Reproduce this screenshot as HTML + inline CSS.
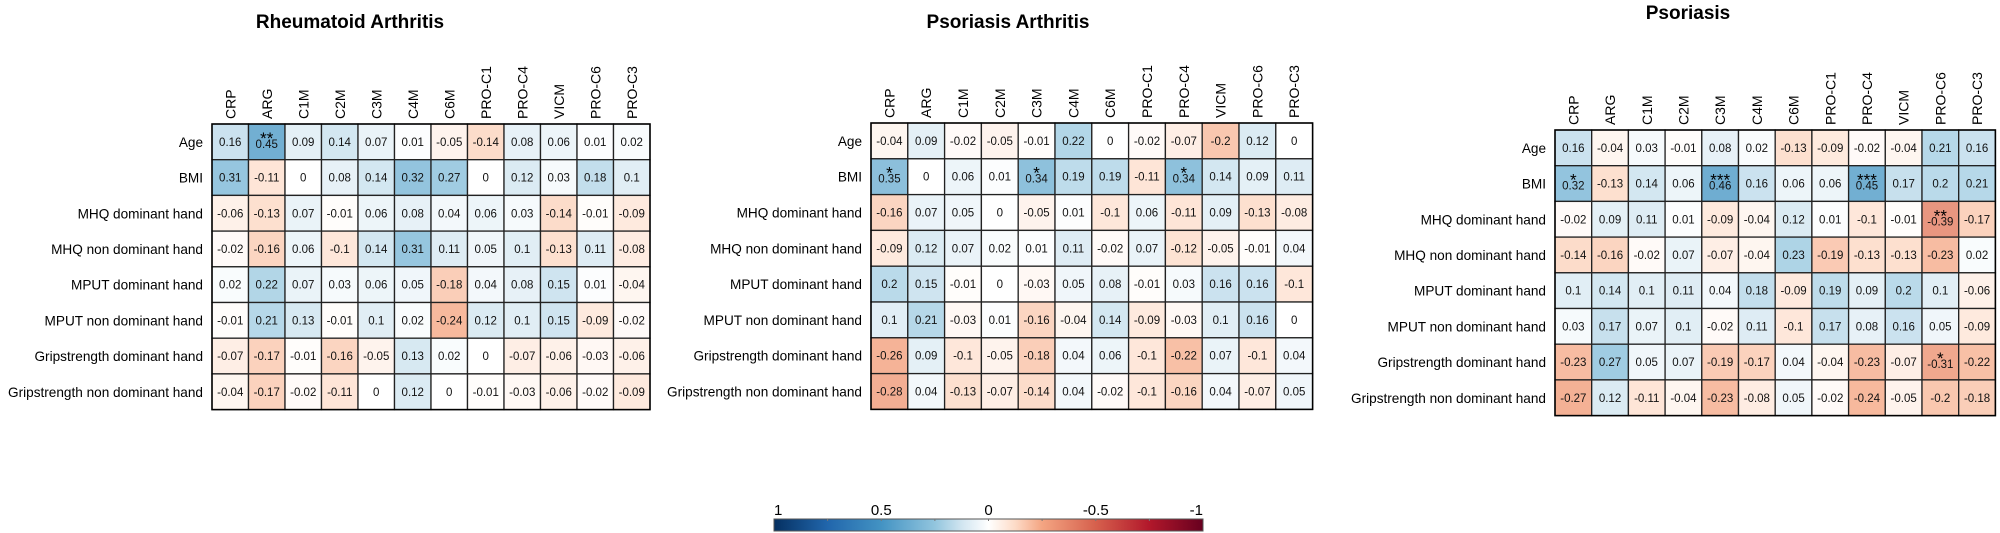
<!DOCTYPE html>
<html><head><meta charset="utf-8">
<style>
html,body{margin:0;padding:0;background:#fff;}
svg{display:block;font-family:"Liberation Sans",Arial,sans-serif;}
</style></head>
<body>
<svg id="chart" width="2000" height="533" viewBox="0 0 2000 533" xmlns="http://www.w3.org/2000/svg"></svg>
<script>
const columns = ["CRP","ARG","C1M","C2M","C3M","C4M","C6M","PRO-C1","PRO-C4","VICM","PRO-C6","PRO-C3"];
const rowsLabels = ["Age","BMI","MHQ dominant hand","MHQ non dominant hand","MPUT dominant hand","MPUT non dominant hand","Gripstrength dominant hand","Gripstrength non dominant hand"];
const titles = ["Rheumatoid Arthritis","Psoriasis Arthritis","Psoriasis"];
const raValues = [
[0.16,0.45,0.09,0.14,0.07,0.01,-0.05,-0.14,0.08,0.06,0.01,0.02],
[0.31,-0.11,0,0.08,0.14,0.32,0.27,0,0.12,0.03,0.18,0.1],
[-0.06,-0.13,0.07,-0.01,0.06,0.08,0.04,0.06,0.03,-0.14,-0.01,-0.09],
[-0.02,-0.16,0.06,-0.1,0.14,0.31,0.11,0.05,0.1,-0.13,0.11,-0.08],
[0.02,0.22,0.07,0.03,0.06,0.05,-0.18,0.04,0.08,0.15,0.01,-0.04],
[-0.01,0.21,0.13,-0.01,0.1,0.02,-0.24,0.12,0.1,0.15,-0.09,-0.02],
[-0.07,-0.17,-0.01,-0.16,-0.05,0.13,0.02,0,-0.07,-0.06,-0.03,-0.06],
[-0.04,-0.17,-0.02,-0.11,0,0.12,0,-0.01,-0.03,-0.06,-0.02,-0.09]];
const raStars = [[0,1,"**"]];
const psaValues = [
[-0.04,0.09,-0.02,-0.05,-0.01,0.22,0,-0.02,-0.07,-0.2,0.12,0],
[0.35,0,0.06,0.01,0.34,0.19,0.19,-0.11,0.34,0.14,0.09,0.11],
[-0.16,0.07,0.05,0,-0.05,0.01,-0.1,0.06,-0.11,0.09,-0.13,-0.08],
[-0.09,0.12,0.07,0.02,0.01,0.11,-0.02,0.07,-0.12,-0.05,-0.01,0.04],
[0.2,0.15,-0.01,0,-0.03,0.05,0.08,-0.01,0.03,0.16,0.16,-0.1],
[0.1,0.21,-0.03,0.01,-0.16,-0.04,0.14,-0.09,-0.03,0.1,0.16,0],
[-0.26,0.09,-0.1,-0.05,-0.18,0.04,0.06,-0.1,-0.22,0.07,-0.1,0.04],
[-0.28,0.04,-0.13,-0.07,-0.14,0.04,-0.02,-0.1,-0.16,0.04,-0.07,0.05]];
const psaStars = [[1,0,"*"],[1,4,"*"],[1,8,"*"]];
const psoValues = [
[0.16,-0.04,0.03,-0.01,0.08,0.02,-0.13,-0.09,-0.02,-0.04,0.21,0.16],
[0.32,-0.13,0.14,0.06,0.46,0.16,0.06,0.06,0.45,0.17,0.2,0.21],
[-0.02,0.09,0.11,0.01,-0.09,-0.04,0.12,0.01,-0.1,-0.01,-0.39,-0.17],
[-0.14,-0.16,-0.02,0.07,-0.07,-0.04,0.23,-0.19,-0.13,-0.13,-0.23,0.02],
[0.1,0.14,0.1,0.11,0.04,0.18,-0.09,0.19,0.09,0.2,0.1,-0.06],
[0.03,0.17,0.07,0.1,-0.02,0.11,-0.1,0.17,0.08,0.16,0.05,-0.09],
[-0.23,0.27,0.05,0.07,-0.19,-0.17,0.04,-0.04,-0.23,-0.07,-0.31,-0.22],
[-0.27,0.12,-0.11,-0.04,-0.23,-0.08,0.05,-0.02,-0.24,-0.05,-0.2,-0.18]];
const psoStars = [[1,0,"*"],[1,4,"***"],[1,8,"***"],[2,10,"**"],[6,10,"*"]];
const legendTicks = [1,0.5,0,-0.5,-1];

const NS="http://www.w3.org/2000/svg";
const svg=document.getElementById('chart');
function mk(tag,attrs,parent){const e=document.createElementNS(NS,tag);for(const k in attrs)e.setAttribute(k,attrs[k]);(parent||svg).appendChild(e);return e;}

const stops=[[1,[5,48,97]],[0.75,[33,102,172]],[0.5,[67,147,195]],[0.25,[146,197,222]],[0.125,[209,229,240]],[0,[255,255,255]],[-0.125,[253,219,199]],[-0.25,[244,165,130]],[-0.5,[214,96,77]],[-0.75,[178,24,43]],[-1,[103,0,31]]];
function rawColor(v){
  for(let i=0;i<stops.length-1;i++){
    const a=stops[i],b=stops[i+1];
    if(v<=a[0]&&v>=b[0]){const t=(a[0]-v)/(a[0]-b[0]);
      return a[1].map((x,j)=>x+(b[1][j]-x)*t);}
  }
  return [255,255,255];
}
function colorFor(v){
  const c=rawColor(v).map(x=>Math.round(x*0.82+255*0.18));
  return `rgb(${c[0]},${c[1]},${c[2]})`;
}

const panels=[
 {values:raValues,stars:raStars,x:212,y:124,cw:36.5,ch:35.7,title:titles[0],tx:350,ty:28,key:'ra'},
 {values:psaValues,stars:psaStars,x:871,y:123,cw:36.8,ch:35.8,title:titles[1],tx:1008,ty:28,key:'psa'},
 {values:psoValues,stars:psoStars,x:1555,y:130,cw:36.7,ch:35.7,title:titles[2],tx:1688,ty:19,key:'pso'}];

panels.forEach(p=>{
  const g=mk('g',{});
  
  
  const t=mk('text',{x:p.tx,y:p.ty,'text-anchor':'middle','font-size':19,'font-weight':'bold',fill:'#000'},g);
  t.textContent=p.title;
  
  
  const colX=j=>p.x+j*p.cw, rowY=i=>p.y+i*p.ch;
  columns.forEach((c,j)=>{
    const cx=colX(j)+p.cw/2+5, by=p.y-5;
    const lt=mk('text',{x:0,y:0,transform:`translate(${cx},${by}) rotate(-90)`,'font-size':14,fill:'#000'},g);
    lt.textContent=c;
    
    
  });
  rowsLabels.forEach((r,i)=>{
    const rt=mk('text',{x:p.x-9,y:rowY(i)+p.ch/2+5,'text-anchor':'end','font-size':13.6,fill:'#000'},g);
    rt.textContent=r;
    
    
  });
  p.values.forEach((row,i)=>row.forEach((v,j)=>{
    const cell=mk('rect',{x:colX(j),y:rowY(i),width:p.cw,height:p.ch,fill:colorFor(v),stroke:'#222','stroke-width':1.3},g);
    
    
  }));
  p.values.forEach((row,i)=>row.forEach((v,j)=>{
    const star=p.stars.find(s=>s[0]===i&&s[1]===j);
    const vt=mk('text',{x:colX(j)+p.cw/2,y:rowY(i)+p.ch/2+(star?6:4),'text-anchor':'middle','font-size':11.5,fill:'#111'},g);
    vt.textContent=String(v);
    
    
    if(star){
      const st=mk('text',{x:colX(j)+p.cw/2,y:rowY(i)+p.ch/2+2,'text-anchor':'middle','font-size':17,fill:'#000'},g);
      st.textContent=star[2];
      
      
    }
  }));
  mk('rect',{x:p.x,y:p.y,width:12*p.cw,height:8*p.ch,fill:'none',stroke:'#000','stroke-width':1.5},g);
});

// color legend
const lg=mk('g',{});


const defs=mk('defs',{});
const grad=mk('linearGradient',{id:'rdbu',x1:'0',x2:'1',y1:'0',y2:'0'},defs);
stops.forEach(s=>{mk('stop',{offset:((1-s[0])/2*100)+'%','stop-color':`rgb(${s[1].join(',')})`},grad);});
const L0=774,L1=1203,LY=519,LH=12;
const lx=v=>L0+(1-v)/2*(L1-L0);
mk('rect',{x:L0,y:LY,width:L1-L0,height:LH,fill:'url(#rdbu)',stroke:'#555','stroke-width':1},lg);
for(let k=1;k<8;k++){mk('line',{x1:L0+k*(L1-L0)/8,x2:L0+k*(L1-L0)/8,y1:LY,y2:LY+2,stroke:'#777','stroke-width':1},lg);}
legendTicks.forEach((v,k)=>{
  const anchor=k===0?'start':(k===legendTicks.length-1?'end':'middle');
  const tt=mk('text',{x:lx(v),y:515,'text-anchor':anchor,'font-size':15,fill:'#000'},lg);
  tt.textContent=String(v);
  
  
});
</script>
</body></html>
